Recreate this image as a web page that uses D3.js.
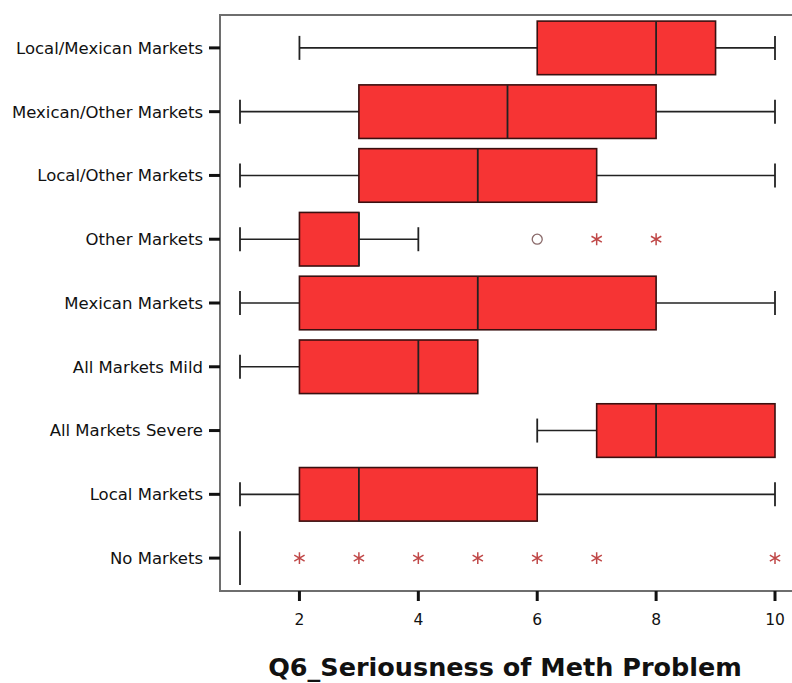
<!DOCTYPE html>
<html>
<head>
<meta charset="utf-8">
<script src="https://cdn.jsdelivr.net/npm/d3@7"></script>
<style>
  body { margin: 0; background: #fff; }
  svg { display: block; }
</style>
</head>
<body>
<svg id="chart" width="792" height="683"></svg>
<script>
// categories, top to bottom
const categories = ["Local/Mexican Markets", "Mexican/Other Markets", "Local/Other Markets",
  "Other Markets", "Mexican Markets", "All Markets Mild", "All Markets Severe",
  "Local Markets", "No Markets"];
// five-number summaries (whisker low, Q1, median, Q3, whisker high)
const lowWhisker = [2, 1, 1, 1, 1, 1, 6, 1, 1];
const q1 =         [6, 3, 3, 2, 2, 2, 7, 2, 1];
const median =     [8, 5.5, 5, 3, 5, 4, 8, 3, 1];
const q3 =         [9, 8, 7, 3, 8, 5, 10, 6, 1];
const highWhisker = [10, 10, 10, 4, 10, 5, 10, 10, 1];
// outliers: circles and extremes (stars)
const outliers = [
  { cat: "Other Markets", value: 6 }
];
const extremes = [
  { cat: "Other Markets", value: 7 }, { cat: "Other Markets", value: 8 },
  { cat: "No Markets", value: 2 }, { cat: "No Markets", value: 3 },
  { cat: "No Markets", value: 4 }, { cat: "No Markets", value: 5 },
  { cat: "No Markets", value: 6 }, { cat: "No Markets", value: 7 },
  { cat: "No Markets", value: 10 }
];
const xTicks = [2, 4, 6, 8, 10];
const xTitle = "Q6_Seriousness of Meth Problem";

const svg = d3.select("#chart");
const plotLeft = 220, plotTop = 15, plotBottom = 591;

const x = d3.scaleLinear().domain([1, 10]).range([240, 775]);
const y = d3.scaleBand().domain(categories).range([plotTop + 1, plotBottom - 1]).paddingInner(0.16).paddingOuter(0.08);
const bh = y.bandwidth();
const cy = c => y(c) + bh / 2;
const capH = 24;

const boxColor = "#f63434";
const lineColor = "#222";
const labelFont = "DejaVu Sans, Verdana, sans-serif";

// frame (top, left, bottom; right edge runs off the picture)
svg.append("path")
  .attr("d", `M792,${plotTop} H${plotLeft} V${plotBottom} H792`)
  .attr("fill", "none").attr("stroke", "#6e6e6e").attr("stroke-width", 2);

const rows = categories.map((c, i) => ({
  cat: c, lo: lowWhisker[i], q1: q1[i], med: median[i], q3: q3[i], hi: highWhisker[i]
}));

const g = svg.append("g");
rows.forEach(d => {
  const yc = cy(d.cat);
  // whiskers
  if (d.lo < d.q1) {
    g.append("line").attr("x1", x(d.lo)).attr("x2", x(d.q1)).attr("y1", yc).attr("y2", yc)
      .attr("stroke", lineColor).attr("stroke-width", 1.6);
    g.append("line").attr("x1", x(d.lo)).attr("x2", x(d.lo)).attr("y1", yc - capH / 2).attr("y2", yc + capH / 2)
      .attr("stroke", lineColor).attr("stroke-width", 1.8);
  }
  if (d.hi > d.q3) {
    g.append("line").attr("x1", x(d.q3)).attr("x2", x(d.hi)).attr("y1", yc).attr("y2", yc)
      .attr("stroke", lineColor).attr("stroke-width", 1.6);
    g.append("line").attr("x1", x(d.hi)).attr("x2", x(d.hi)).attr("y1", yc - capH / 2).attr("y2", yc + capH / 2)
      .attr("stroke", lineColor).attr("stroke-width", 1.8);
  }
  // box
  if (d.q3 > d.q1) {
    g.append("rect").attr("x", x(d.q1)).attr("y", y(d.cat))
      .attr("width", x(d.q3) - x(d.q1)).attr("height", bh)
      .attr("fill", boxColor).attr("stroke", "#3a1010").attr("stroke-width", 1.6);
  }
  // median
  g.append("line").attr("x1", x(d.med)).attr("x2", x(d.med))
    .attr("y1", y(d.cat)).attr("y2", y(d.cat) + bh)
    .attr("stroke", lineColor).attr("stroke-width", 1.8);
});

// circle outliers
svg.selectAll("circle.out").data(outliers).join("circle")
  .attr("class", "out")
  .attr("cx", d => x(d.value)).attr("cy", d => cy(d.cat)).attr("r", 5)
  .attr("fill", "none").attr("stroke", "#8a6a6a").attr("stroke-width", 1.3);

// star extremes
const star = d3.symbol().type(d3.symbolAsterisk).size(100);
svg.selectAll("path.ext").data(extremes).join("path")
  .attr("class", "ext")
  .attr("transform", d => `translate(${x(d.value)},${cy(d.cat)})`)
  .attr("d", star)
  .attr("fill", "none").attr("stroke", "#c04848").attr("stroke-width", 1.5);

// y axis labels and ticks
const yAxis = svg.append("g");
categories.forEach(c => {
  yAxis.append("line").attr("x1", 209).attr("x2", plotLeft).attr("y1", cy(c)).attr("y2", cy(c))
    .attr("stroke", "#111").attr("stroke-width", 3);
  yAxis.append("text").attr("x", 203).attr("y", cy(c)).attr("dy", "0.36em")
    .attr("text-anchor", "end")
    .attr("font-family", labelFont).attr("font-size", 16.5)
    .attr("fill", "#111").text(c);
});

// x axis ticks
const xAxis = svg.append("g");
xTicks.forEach(t => {
  xAxis.append("line").attr("x1", x(t)).attr("x2", x(t)).attr("y1", plotBottom).attr("y2", plotBottom + 10)
    .attr("stroke", "#111").attr("stroke-width", 3);
  xAxis.append("text").attr("x", x(t)).attr("y", 625).attr("text-anchor", "middle")
    .attr("font-family", labelFont).attr("font-size", 15.5)
    .attr("fill", "#111").text(t);
});

svg.append("text").attr("x", 505).attr("y", 676).attr("text-anchor", "middle")
  .attr("font-family", "DejaVu Sans, Verdana, sans-serif").attr("font-weight", "bold")
  .attr("font-size", 25.5).attr("fill", "#111").text(xTitle);
</script>
</body>
</html>
